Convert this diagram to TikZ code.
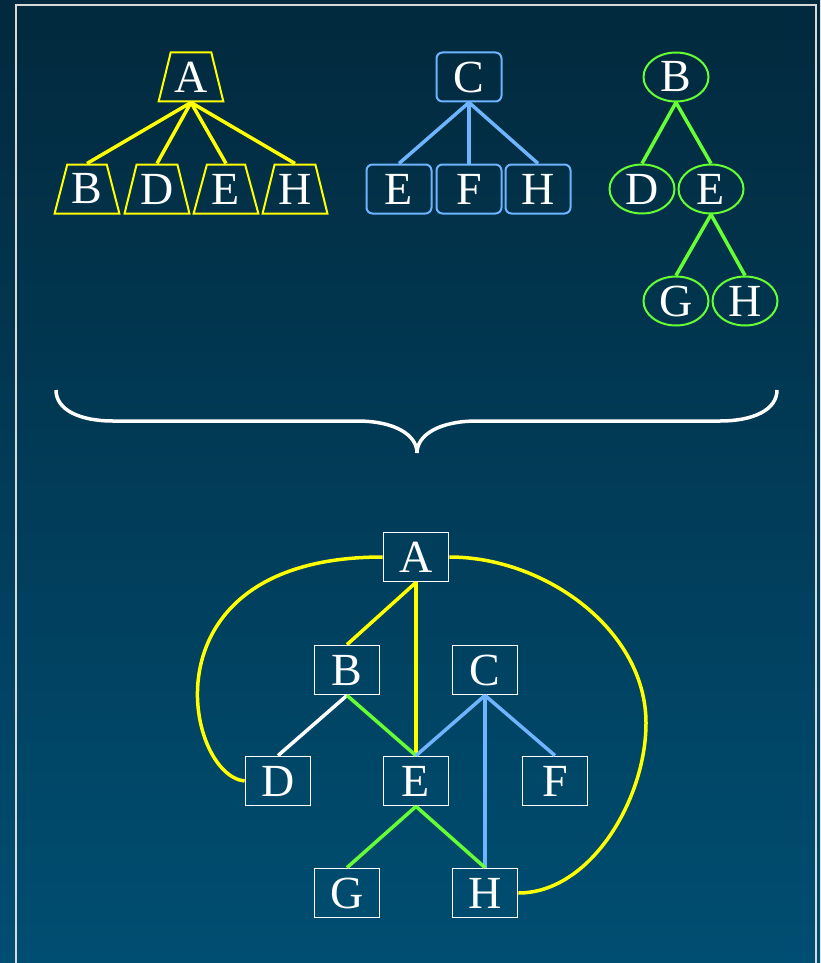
\documentclass[tikz,border=0pt]{standalone}
\usepackage{fontspec}
\setmainfont{Liberation Serif}
\usetikzlibrary{shapes.geometric}

\definecolor{treeyellow}{RGB}{255,255,0}
\definecolor{treegreen}{RGB}{102,255,51}
\definecolor{treeblue}{RGB}{110,180,255}
\definecolor{bgtop}{RGB}{2,41,61}
\definecolor{bgbottom}{RGB}{0,78,114}

\tikzset{
	letter/.style={text=white, font=\fontsize{46}{46}\selectfont, inner sep=0pt,
		minimum width=65pt, minimum height=49pt},
	ybox/.style={letter, draw=treeyellow, line width=2pt, trapezium,
		trapezium left angle=72, trapezium right angle=72, trapezium stretches=true},
	bbox/.style={letter, draw=treeblue, line width=2pt, rounded corners=6pt},
	gbox/.style={letter, draw=treegreen, line width=2pt, ellipse},
	wbox/.style={letter, draw=white, line width=1.8pt},
	yline/.style={treeyellow, line width=3.5pt},
	bline/.style={treeblue, line width=3.5pt},
	gline/.style={treegreen, line width=3.5pt},
	wline/.style={white, line width=3.5pt}
}

\begin{document}
\begin{tikzpicture}[x=1pt, y=-1pt]
		\useasboundingbox (0,0) rectangle (820,963);
		\shade[top color=bgtop, bottom color=bgbottom] (0,0) rectangle (820,963);
		\draw[white!85!black, line width=1.5pt] (16,975) -- (16,5) -- (816,5) -- (816,975);

		% yellow tree
		\node[ybox] (yA) at (191, 77) {A};
		\node[ybox] (yB) at (87, 189) {B};
		\node[ybox] (yD) at (157, 189) {D};
		\node[ybox] (yE) at (226, 189) {E};
		\node[ybox] (yH) at (295, 189) {H};

		% blue tree
		\node[bbox] (bC) at (469, 77) {C};
		\node[bbox] (bE) at (399, 189) {E};
		\node[bbox] (bF) at (469, 189) {F};
		\node[bbox] (bH) at (538, 189) {H};

		% green tree
		\node[gbox] (gB) at (676, 77) {B};
		\node[gbox] (gD) at (642, 189) {D};
		\node[gbox] (gE) at (711, 189) {E};
		\node[gbox] (gG) at (676, 301) {G};
		\node[gbox] (gH) at (745, 301) {H};

		\draw[yline] (yA.south) -- (yB.north);
		\draw[yline] (yA.south) -- (yD.north);
		\draw[yline] (yA.south) -- (yE.north);
		\draw[yline] (yA.south) -- (yH.north);

		\draw[bline] (bC.south) -- (bE.north);
		\draw[bline] (bC.south) -- (bF.north);
		\draw[bline] (bC.south) -- (bH.north);

		\draw[gline] (gB.south) -- (gD.north);
		\draw[gline] (gB.south) -- (gE.north);
		\draw[gline] (gE.south) -- (gG.north);
		\draw[gline] (gE.south) -- (gH.north);

		% brace
		\draw[white, line width=3.5pt] (56,390) .. controls (56,410) and (80,421) .. (113,421)
			-- (357,421) .. controls (395,421) and (417,435) .. (417,453)
			.. controls (417,435) and (439,421) .. (477,421) -- (720,421)
			.. controls (753,421) and (777,410) .. (777,390);

		% merged graph
		\node[wbox] (mA) at (416, 557) {A};
		\node[wbox] (mB) at (347, 670) {B};
		\node[wbox] (mC) at (485, 670) {C};
		\node[wbox] (mD) at (278, 781) {D};
		\node[wbox] (mE) at (416, 781) {E};
		\node[wbox] (mF) at (555, 781) {F};
		\node[wbox] (mG) at (347, 893) {G};
		\node[wbox] (mH) at (485, 893) {H};

		\draw[yline] (mA.south) -- (mB.north);
		\draw[yline] (mA.south) -- (mE.north);
		\draw[wline] (mB.south) -- (mD.north);
		\draw[gline] (mB.south) -- (mE.north);
		\draw[bline] (mC.south) -- (mE.north);
		\draw[bline] (mC.south) -- (mF.north);
		\draw[bline] (mC.south) -- (mH.north);
		\draw[gline] (mE.south) -- (mG.north);
		\draw[gline] (mE.south) -- (mH.north);
		\draw[yline] (mA.west) .. controls (140,557) and (185,775) .. (mD.west);
		\draw[yline] (mA.east) .. controls (545,557) and (646,630) .. (646,723)
			.. controls (646,800) and (590,893) .. (mH.east);
	\end{tikzpicture}
\end{document}
